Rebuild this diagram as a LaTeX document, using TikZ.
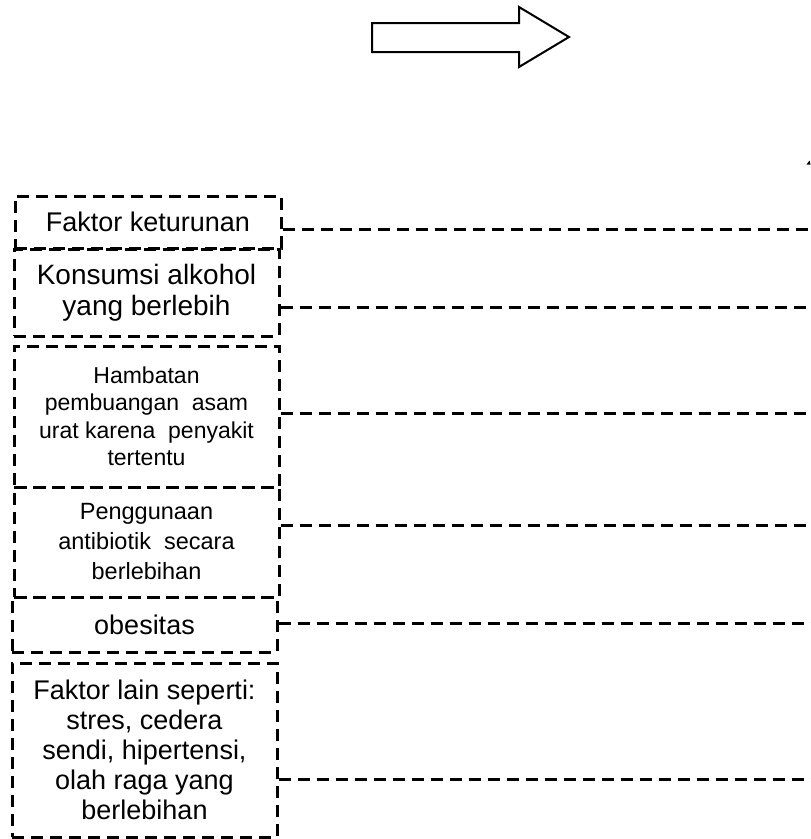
\documentclass[tikz,border=0pt]{standalone}
\usepackage{fontspec}
\setmainfont{Liberation Sans}
\usetikzlibrary{calc}

\begin{document}
\begin{tikzpicture}[x=1pt, y=-1pt,
  cause/.style={draw, line width=3pt, dash pattern=on 12pt off 7pt, align=center, inner sep=0pt},
  link/.style={line width=3pt, dash pattern=on 12pt off 7pt}]
\useasboundingbox (0,0) rectangle (811,839);

% Block arrow
\draw[line width=2pt, line join=miter] (372,23) -- (519,23) -- (519,7) -- (569,37) -- (519,67) -- (519,52) -- (372,52) -- cycle;

% Cut-off mark at the right edge
\fill (806.5,164.5) -- (810.5,164.5) -- (809.5,160.5) -- cycle;

% Causes
\node[cause, minimum width=266pt, minimum height=52pt, font=\fontsize{27}{30}\selectfont] (keturunan) at (148,222) {Faktor keturunan};
\node[cause, minimum width=265pt, minimum height=87pt, font=\fontsize{28}{31}\selectfont] (alkohol) at (146.5,292.5) {Konsumsi alkohol\\yang berlebih};
\node[cause, minimum width=265pt, minimum height=141pt, font=\fontsize{23}{27.5}\selectfont] (hambatan) at (146.5,416.5) {Hambatan\\pembuangan\ \ asam\\urat karena\ \ penyakit\\tertentu};
\node[cause, minimum width=265pt, minimum height=110pt, font=\fontsize{23.5}{30}\selectfont] (antibiotik) at (146.5,542) {Penggunaan\\antibiotik\ \ secara\\berlebihan};
\node[cause, minimum width=265pt, minimum height=55pt, font=\fontsize{27}{30}\selectfont] (obesitas) at (144.5,624.5) {obesitas};
\node[cause, minimum width=265pt, minimum height=174pt, font=\fontsize{27}{30}\selectfont] (lain) at (144.5,750) {Faktor lain seperti:\\stres, cedera\\sendi, hipertensi,\\olah raga yang\\berlebihan};

% Links to the right
\foreach \n/\y in {keturunan/229, alkohol/307, hambatan/413, antibiotik/525, obesitas/623, lain/779} {
  \coordinate (end-\n) at (811,\y);
  \draw[link] (end-\n -| \n.east) -- (end-\n);
}
\end{tikzpicture}
\end{document}
